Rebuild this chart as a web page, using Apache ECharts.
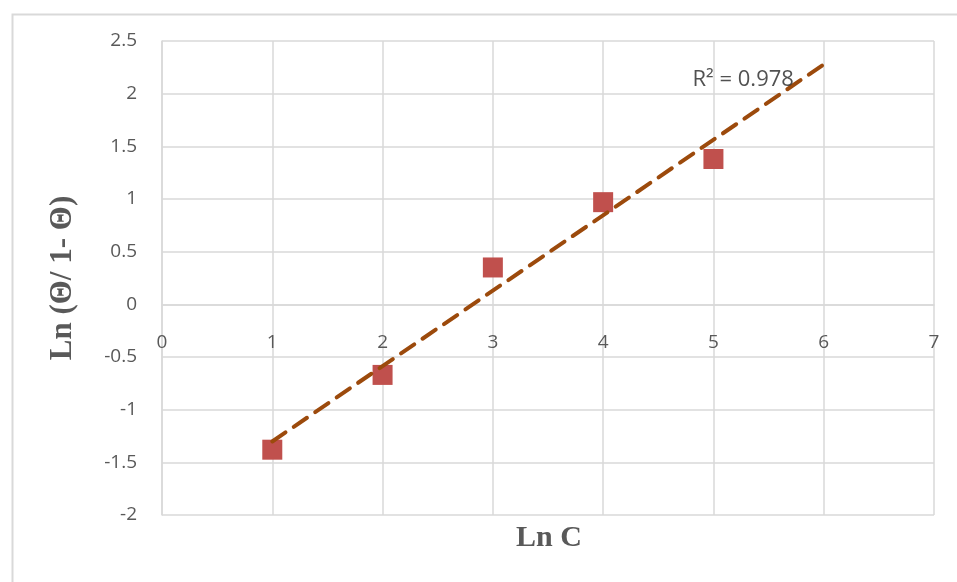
<!DOCTYPE html>
<html>
<head>
<meta charset="utf-8">
<script src="https://cdn.jsdelivr.net/npm/echarts@6/dist/echarts.min.js"></script>
<style>
html,body{margin:0;padding:0;background:#fff;}
#chart{width:957px;height:582px;}
</style>
</head>
<body>
<div id="chart"></div>
<script>
// Data
var lnC = [1, 2, 3, 4, 5];
var lnTheta = [-1.38, -0.67, 0.35, 0.97, 1.38];
var trendRange = [1, 6];
var r2Text = 'R\u00B2 = 0.978';
var r2Pos = [5.27, 2.13];
var xTitle = 'Ln C';
var yTitle = 'Ln (\u0398/ 1- \u0398)';
var yMin = -2, yMax = 2.5, yStep = 0.5;
var xMin = 0, xMax = 7, xStep = 1;

// Linear least-squares fit of the data (Excel linear trendline)
var n = lnC.length, sx = 0, sy = 0, sxx = 0, sxy = 0;
for (var i = 0; i < n; i++) { sx += lnC[i]; sy += lnTheta[i]; sxx += lnC[i]*lnC[i]; sxy += lnC[i]*lnTheta[i]; }
var slope = (n*sxy - sx*sy) / (n*sxx - sx*sx);
var intercept = (sy - slope*sx) / n;
var trendData = trendRange.map(function (x) { return [x, slope*x + intercept]; });
var points = lnC.map(function (x, i) { return [x, lnTheta[i]]; });

var gridTop = 41, gridBottom = 67, H = 582;
var plotH = H - gridTop - gridBottom;
// x axis crosses at y = 0: shift it up from the bottom edge
var xAxisOffset = -((0 - yMin) / (yMax - yMin)) * plotH;

var chart = echarts.init(document.getElementById('chart'));
var gridColor = '#d9d9d9';
var labelFont = { color: '#595959', fontSize: 19, fontFamily: 'Open Sans' };
chart.setOption({
  animation: false,
  backgroundColor: '#fff',
  grid: { left: 162, right: 23, top: gridTop, bottom: gridBottom },
  xAxis: {
    type: 'value', min: xMin, max: xMax, interval: xStep,
    offset: xAxisOffset,
    axisLine: { show: true, onZero: false, lineStyle: { color: gridColor, width: 1.5 } },
    axisTick: { show: false },
    splitLine: { show: true, lineStyle: { color: gridColor, width: 1.5 } },
    axisLabel: Object.assign({ margin: 29 }, labelFont)
  },
  yAxis: {
    type: 'value', min: yMin, max: yMax, interval: yStep,
    name: yTitle, nameLocation: 'middle', nameGap: 84, nameRotate: 90,
    nameTextStyle: { color: '#595959', fontSize: 31, fontWeight: 'bold', fontFamily: 'Liberation Serif' },
    axisLine: { show: true, onZero: false, lineStyle: { color: gridColor, width: 1.5 } },
    axisTick: { show: false },
    splitLine: { show: true, lineStyle: { color: gridColor, width: 1.5 } },
    axisLabel: Object.assign({ margin: 25 }, labelFont)
  },
  graphic: [
    { type: 'rect', left: 10, top: 12, shape: { width: 960, height: 590 }, style: { fill: 'none', stroke: '#d9d9d9', lineWidth: 2 }, z: -1 },
    { type: 'text', left: 516, top: 523, style: { text: xTitle, fill: '#595959', font: 'bold 30px "Liberation Serif"' } }
  ],
  series: [
    {
      type: 'line', data: trendData, symbol: 'none', z: 3,
      lineStyle: { color: '#9c4a0c', width: 4, type: [16, 10], cap: 'round' }
    },
    {
      type: 'scatter', data: points, symbol: 'rect', symbolSize: 20, z: 2,
      itemStyle: { color: '#c0504d', opacity: 1 }
    },
    {
      type: 'scatter', data: [r2Pos], symbolSize: 0, silent: true, z: 4,
      label: { show: true, position: 'inside', formatter: r2Text, color: '#262626', fontSize: 22, fontFamily: 'Open Sans' }
    }
  ]
});
</script>
</body>
</html>
